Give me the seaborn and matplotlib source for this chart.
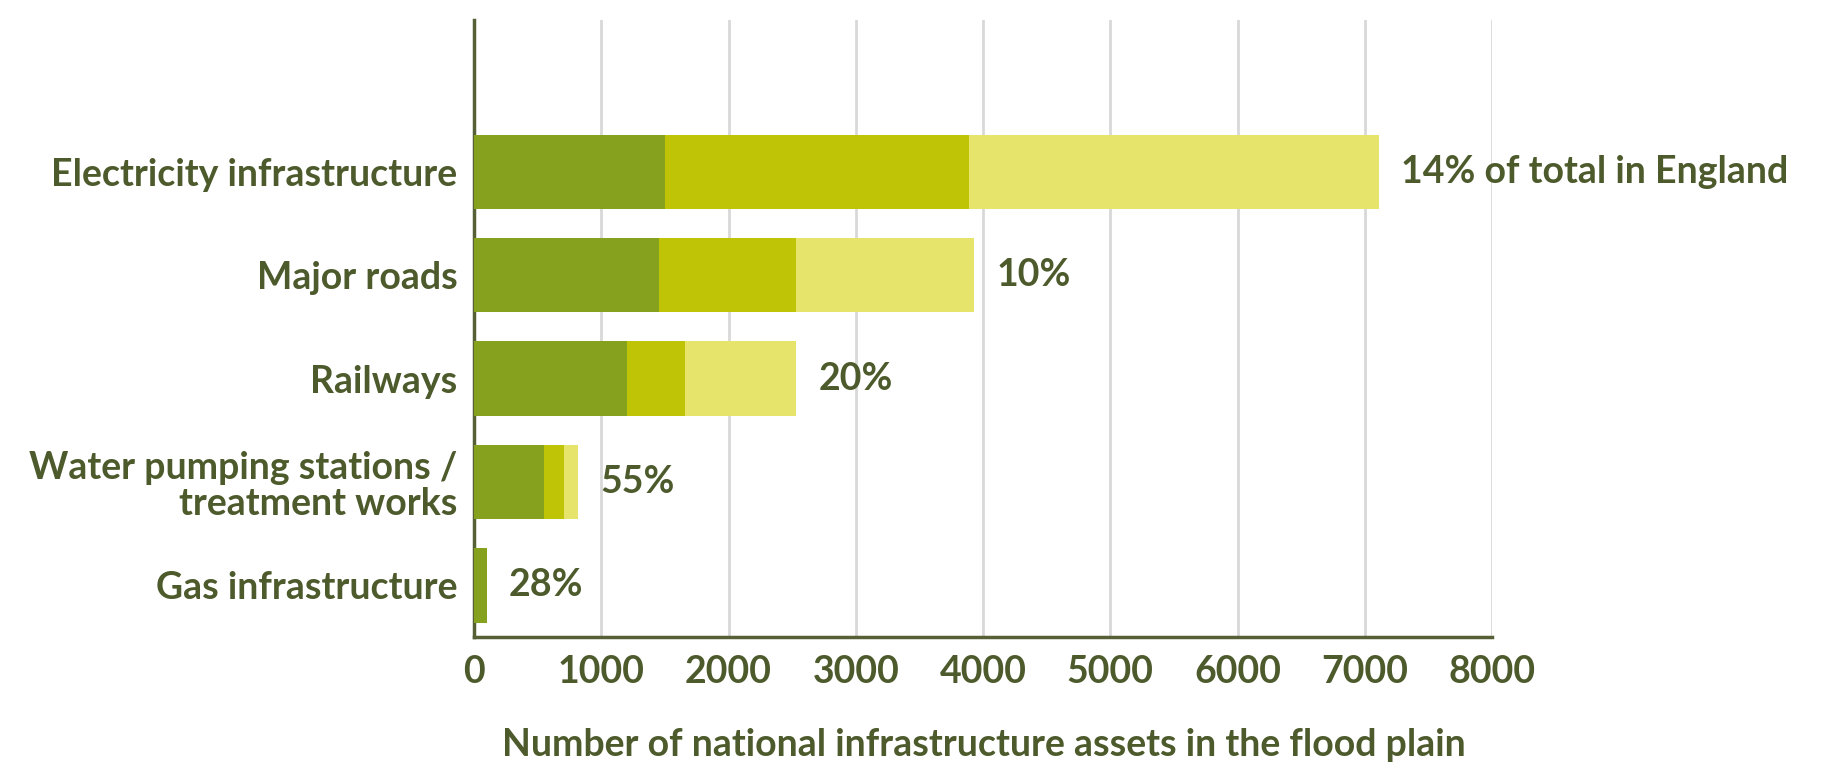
import matplotlib
matplotlib.use("Agg")
import matplotlib.pyplot as plt
import seaborn as sns
import pandas as pd
import numpy as np

categories = ["Electricity infrastructure", "Major roads", "Railways",
              "Water pumping stations /\ntreatment works", "Gas infrastructure"]
band1 = [1500, 1450, 1200, 550, 100]
band2 = [2390, 1080, 460, 160, 0]
band3 = [3220, 1400, 870, 105, 0]
pct_labels = ["14% of total in England", "10%", "20%", "55%", "28%"]
x_ticks = [0, 1000, 2000, 3000, 4000, 5000, 6000, 7000, 8000]
x_label = "Number of national infrastructure assets in the flood plain"

colors = ["#86a11d", "#c0c406", "#e6e46a"]
text_color = "#4d5a2c"
spine_color = "#566037"
FS = 27
FW = 700

sns.set_theme(style="white")
plt.rcParams['font.family'] = ['Lato', 'DejaVu Sans']

df = pd.DataFrame({"cat": categories, "b1": band1, "b2": band2, "b3": band3})
df["c1"] = df["b1"]
df["c2"] = df["b1"] + df["b2"]
df["c3"] = df["c2"] + df["b3"]

fig = plt.figure(figsize=(18.28, 7.69), dpi=100)
ax = fig.add_axes([474/1828, 1-637/769, (1492-474)/1828, (637-20)/769])

for col, c in zip(["c3", "c2", "c1"], colors[::-1]):
    sns.barplot(data=df, y="cat", x=col, order=categories, color=c, orient="h",
                width=0.72, saturation=1, linewidth=0, ax=ax, zorder=3)

for i, (tot, lab) in enumerate(zip(df["c3"], pct_labels)):
    ax.annotate(lab, xy=(tot, i), xytext=(16, 0), textcoords="offset points",
                va="center", ha="left", fontsize=FS, color=text_color, fontweight=FW)

ax.set_xlim(0, 8000)
ax.set_ylim(4.5, -1.47)
ax.set_xticks(x_ticks)
ax.set_xticklabels([str(t) for t in x_ticks])
ax.xaxis.grid(True, color="#d8d8d8", linewidth=2, zorder=0)
ax.set_axisbelow(True)
ax.set_xlabel("")
ax.set_ylabel("")
for s in ["top", "right"]:
    ax.spines[s].set_visible(False)
for s in ["left", "bottom"]:
    ax.spines[s].set_color(spine_color)
    ax.spines[s].set_linewidth(2.5)
ax.tick_params(axis="x", length=0, pad=13, labelsize=FS, labelcolor=text_color)
ax.tick_params(axis="y", length=0, pad=12, labelsize=FS, labelcolor=text_color)
for t in ax.get_yticklabels():
    t.set_ha("right")
    t.set_multialignment("right")
    t.set_fontweight(FW)
    t.set_linespacing(1.08)
for t in ax.get_xticklabels():
    t.set_fontweight(FW)

fig.text(502/1828, 1-745/769, x_label, ha="left", va="center",
         fontsize=FS, color=text_color, fontweight=FW)

fig.savefig("out.png", dpi=100, facecolor="white")
